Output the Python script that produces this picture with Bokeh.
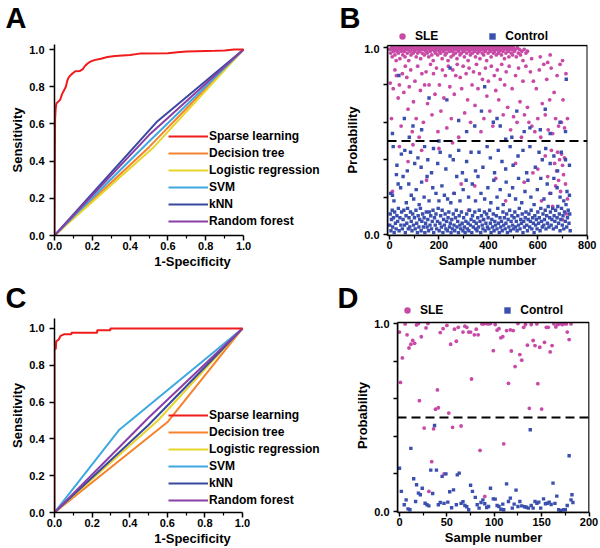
from bokeh.plotting import figure
from bokeh.layouts import row, column
from bokeh.models import (Range1d, FixedTicker, Legend, LegendItem, Span, BoxAnnotation, Label,
                          PrintfTickFormatter)
from bokeh.embed import file_html
from bokeh.resources import INLINE

FONT = "Liberation Sans"

# ---------------- ROC data ----------------
roc_names = ["Sparse learning", "Decision tree", "Logistic regression", "SVM", "kNN", "Random forest"]
roc_colors = ["#f01c1c", "#f5822e", "#e6d62c", "#3fa8e0", "#3a48a0", "#8a3fa6"]

a_sparse_fpr = [0, 0.003, 0.006, 0.01, 0.02, 0.03, 0.04, 0.05, 0.06, 0.067, 0.075, 0.088, 0.1, 0.11, 0.135,
                0.15, 0.16, 0.175, 0.19, 0.21, 0.245, 0.28, 0.32, 0.4, 0.45, 0.6, 0.65, 0.7, 0.85, 0.9, 0.95, 1.0]
a_sparse_tpr = [0, 0.62, 0.68, 0.71, 0.72, 0.73, 0.76, 0.78, 0.80, 0.83, 0.85, 0.865, 0.875, 0.883, 0.885,
                0.895, 0.91, 0.925, 0.935, 0.943, 0.95, 0.96, 0.965, 0.97, 0.978, 0.98, 0.985, 0.99, 0.993, 0.995, 1.0, 1.0]
a_tree_fpr, a_tree_tpr = [0, 0.5, 1], [0, 0.475, 1]
a_logit_fpr, a_logit_tpr = [0, 0.52, 1], [0, 0.47, 1]
a_svm_fpr, a_svm_tpr = [0, 0.5, 1], [0, 0.505, 1]
a_knn_fpr, a_knn_tpr = [0, 0.54, 1], [0, 0.61, 1]
a_rf_fpr, a_rf_tpr = [0, 0.5, 1], [0, 0.54, 1]

c_sparse_fpr = [0, 0, 0.007, 0.009, 0.023, 0.032, 0.05, 0.09, 0.09, 0.227, 0.227, 0.297, 0.297, 1.0]
c_sparse_tpr = [0, 0.886, 0.89, 0.93, 0.94, 0.96, 0.968, 0.968, 0.977, 0.977, 0.99, 0.99, 1.0, 1.0]
c_tree_fpr, c_tree_tpr = [0, 0.6, 1], [0, 0.49, 1]
c_logit_fpr, c_logit_tpr = [0, 0.55, 1], [0, 0.5, 1]
c_svm_fpr, c_svm_tpr = [0, 0.345, 1], [0, 0.45, 1]
c_knn_fpr, c_knn_tpr = [0, 0.5, 1], [0, 0.475, 1]
c_rf_fpr, c_rf_tpr = [0, 0.5, 1], [0, 0.515, 1]

roc_ticks = [0.0, 0.2, 0.4, 0.6, 0.8, 1.0]
roc_minor = [0.1, 0.3, 0.5, 0.7, 0.9]

# ---------------- Scatter data (panel B) ----------------
b_sle_pts = [
    (2,0.99),(5,0.97),(8,1.0),(11,0.95),(13,0.99),(16,0.98),(19,1.0),(22,0.96),(24,0.99),(27,0.93),(30,0.98),(33,1.0),(36,0.97),(39,0.99),(42,0.94),(45,1.0),(48,0.98),
    (51,0.99),(54,0.96),(57,1.0),(60,0.98),(63,0.95),(66,0.99),(69,1.0),(72,0.97),(75,0.99),(78,0.93),(81,1.0),(84,0.98),(87,0.96),(90,1.0),(93,0.99),(96,0.97),(99,1.0),
    (102,0.98),(105,0.99),(108,0.95),(111,1.0),(114,0.97),(117,0.99),(120,0.98),(123,1.0),(126,0.94),(129,0.99),(132,0.97),(135,1.0),(138,0.99),(141,0.96),(144,1.0),(147,0.98),
    (150,0.99),(153,0.97),(156,1.0),(159,0.95),(162,0.99),(165,0.98),(168,1.0),(171,0.96),(174,0.99),(177,0.93),(180,1.0),(183,0.98),(186,0.97),(189,0.99),(192,1.0),(195,0.96),(198,0.99),
    (201,0.98),(204,1.0),(207,0.97),(210,0.99),(213,0.94),(216,1.0),(219,0.98),(222,0.99),(225,0.96),(228,1.0),(231,0.97),(234,0.99),(237,0.93),(240,1.0),(243,0.98),(246,0.99),(249,0.95),
    (252,1.0),(255,0.98),(258,0.96),(261,0.99),(264,1.0),(267,0.97),(270,0.99),(273,0.94),(276,1.0),(279,0.98),(282,0.99),(285,0.96),(288,1.0),(291,0.97),(294,0.99),(297,1.0),
    (300,0.98),(303,0.95),(306,0.99),(309,1.0),(312,0.97),(315,0.99),(318,0.93),(321,1.0),(324,0.98),(327,0.96),(330,0.99),(333,1.0),(336,0.97),(339,0.99),(342,1.0),(345,0.98),(348,0.95),
    (351,1.0),(354,0.99),(357,0.97),(360,1.0),(363,0.98),(366,0.94),(369,0.99),(372,1.0),(375,0.97),(378,0.99),(381,0.96),(384,1.0),(387,0.98),(390,0.99),(393,0.93),(396,1.0),(399,0.97),
    (402,0.99),(405,1.0),(408,0.98),(411,0.95),(414,0.99),(417,1.0),(420,0.97),(423,0.99),(426,0.98),(429,1.0),(432,0.96),(435,0.99),(438,1.0),(441,0.97),(444,0.98),(447,1.0),
    (450,0.99),(453,0.96),(456,1.0),(459,0.98),(462,0.99),(465,0.94),(468,1.0),(471,0.97),(474,0.99),(477,1.0),(480,0.98),(483,0.95),(486,0.99),(489,1.0),(492,0.97),(495,0.99),(498,0.96),
    (501,1.0),(505,0.98),(509,0.99),(513,0.95),(517,1.0),(521,0.97),(525,0.99),(530,0.96),(535,0.98),(540,0.93),(545,0.99),(552,0.97),(558,0.98),
    (575,0.94),(610,0.95),(640,0.92),(650,0.96),(700,0.93),
    (3,0.81),(8,0.62),(15,0.78),(22,0.88),(28,0.85),(35,0.73),(40,0.80),(47,0.58),(52,0.86),(58,0.76),(64,0.90),(70,0.84),(75,0.67),(80,0.79),(86,0.88),(92,0.55),(97,0.71),
    (103,0.82),(108,0.62),(114,0.90),(120,0.52),(125,0.77),(131,0.86),(137,0.60),(142,0.80),(148,0.87),(154,0.70),(160,0.80),(166,0.91),(172,0.64),(178,0.86),(184,0.75),(190,0.89),(196,0.55),
    (202,0.80),(208,0.66),(214,0.88),(220,0.73),(226,0.85),(232,0.57),(238,0.90),(244,0.79),(250,0.62),(256,0.88),(262,0.75),(268,0.85),(274,0.91),(280,0.52),(286,0.84),(292,0.78),(298,0.90),
    (304,0.65),(310,0.86),(316,0.72),(322,0.89),(328,0.60),(334,0.80),(340,0.87),(346,0.69),(352,0.91),(358,0.78),(364,0.86),(370,0.55),(376,0.83),(382,0.62),(388,0.89),(394,0.74),
    (400,0.82),(406,0.66),(412,0.90),(418,0.58),(424,0.85),(430,0.77),(436,0.88),(442,0.72),(448,0.83),(454,0.91),(460,0.64),(466,0.80),(472,0.87),(478,0.68),(484,0.90),(490,0.56),(496,0.78),
    (502,0.63),(510,0.85),(516,0.60),(522,0.89),(528,0.71),(534,0.52),(540,0.82),(546,0.64),(552,0.90),(558,0.68),(564,0.60),(570,0.87),(576,0.58),(582,0.82),(588,0.55),(594,0.78),
    (600,0.62),(606,0.88),(612,0.52),(618,0.70),(624,0.91),(630,0.64),(636,0.83),(642,0.56),(648,0.72),(654,0.89),(660,0.54),(666,0.76),(672,0.62),(678,0.85),(684,0.58),(690,0.91),
    (696,0.60),(702,0.72),(708,0.57),(714,0.86),(720,0.62),
    (12,0.23),(40,0.47),(75,0.39),(95,0.48),(130,0.45),(150,0.29),(200,0.46),(255,0.49),(260,0.22),(290,0.27),(320,0.13),(345,0.26),(380,0.08),(430,0.30),(470,0.18),(510,0.38),
    (545,0.28),(580,0.33),(600,0.35),(615,0.18),(630,0.42),(640,0.31),(648,0.22),(655,0.45),(660,0.15),(668,0.38),(672,0.26),(676,0.34),(680,0.44),(684,0.29),(688,0.40),(692,0.23),
    (696,0.43),(700,0.37),(704,0.32),(708,0.41),(712,0.27),(716,0.11),(720,0.19),(700,0.08),
]
b_ctl_pts = [
    (1,0.05),(3,0.11),(6,0.02),(8,0.08),(11,0.13),(13,0.04),(16,0.09),(19,0.01),(21,0.12),(24,0.06),(27,0.03),(30,0.10),(33,0.07),(36,0.14),(39,0.02),(42,0.09),(46,0.05),(49,0.12),
    (52,0.03),(55,0.08),(58,0.13),(61,0.05),(64,0.01),(67,0.10),(70,0.06),(73,0.14),(76,0.03),(79,0.09),(82,0.04),(85,0.12),(88,0.07),(91,0.02),(94,0.11),(97,0.05),
    (101,0.09),(104,0.03),(107,0.13),(110,0.06),(113,0.01),(116,0.10),(119,0.04),(122,0.08),(125,0.14),(128,0.02),(131,0.07),(134,0.11),(137,0.04),(140,0.09),(143,0.01),(146,0.06),(149,0.12),
    (152,0.04),(155,0.08),(158,0.02),(161,0.12),(164,0.05),(167,0.10),(170,0.03),(173,0.07),(176,0.13),(179,0.01),(182,0.09),(185,0.05),(188,0.11),(191,0.03),(194,0.07),(197,0.14),
    (201,0.02),(204,0.06),(207,0.10),(210,0.04),(213,0.13),(216,0.01),(219,0.08),(222,0.05),(225,0.11),(228,0.03),(231,0.07),(234,0.02),(237,0.09),(240,0.12),(243,0.04),(246,0.06),(249,0.01),
    (252,0.08),(255,0.03),(258,0.11),(261,0.05),(264,0.02),(267,0.09),(270,0.13),(273,0.04),(276,0.07),(279,0.01),(282,0.10),(285,0.05),(288,0.03),(291,0.12),(294,0.06),(297,0.02),
    (300,0.09),(303,0.04),(306,0.01),(309,0.07),(312,0.11),(315,0.03),(318,0.06),(321,0.02),(324,0.13),(327,0.05),(330,0.08),(333,0.01),(336,0.10),(339,0.04),(342,0.07),(345,0.12),(348,0.03),
    (351,0.06),(354,0.02),(357,0.09),(360,0.04),(363,0.13),(366,0.07),(369,0.01),(372,0.10),(375,0.05),(378,0.03),(381,0.08),(384,0.12),(387,0.02),(390,0.06),(393,0.11),(396,0.04),(399,0.09),
    (402,0.03),(405,0.13),(408,0.06),(411,0.01),(414,0.08),(417,0.04),(420,0.11),(423,0.02),(426,0.07),(429,0.05),(432,0.10),(435,0.03),(438,0.14),(441,0.06),(444,0.01),(447,0.09),
    (450,0.04),(453,0.07),(456,0.02),(459,0.12),(462,0.05),(465,0.09),(468,0.03),(471,0.06),(474,0.11),(477,0.01),(480,0.08),(483,0.04),(486,0.13),(489,0.02),(492,0.07),(495,0.10),(498,0.05),
    (501,0.03),(504,0.09),(507,0.12),(510,0.04),(513,0.07),(516,0.02),(519,0.10),(522,0.05),(525,0.14),(528,0.03),(531,0.08),(534,0.06),(537,0.11),(540,0.01),(543,0.07),(546,0.04),(549,0.09),
    (552,0.12),(555,0.05),(558,0.02),(561,0.08),(564,0.11),(567,0.04),(570,0.07),(573,0.13),(576,0.03),(579,0.09),(582,0.06),(585,0.01),(588,0.10),(591,0.05),(594,0.08),(597,0.03),
    (600,0.12),(603,0.06),(606,0.09),(609,0.02),(612,0.14),(615,0.07),(618,0.04),(621,0.11),(624,0.05),(627,0.08),(630,0.13),(633,0.03),(636,0.10),(639,0.06),(642,0.15),(645,0.04),(648,0.09),
    (651,0.12),(654,0.05),(657,0.08),(660,0.14),(663,0.03),(666,0.10),(669,0.07),(672,0.13),(675,0.04),(678,0.09),(681,0.15),(684,0.06),(687,0.11),(690,0.02),(693,0.08),(696,0.14),(699,0.05),
    (702,0.10),(705,0.03),(708,0.12),(711,0.07),(714,0.16),(717,0.04),(720,0.09),(723,0.13),(726,0.06),(729,0.11),(731,0.02),
    (5,0.22),(12,0.21),(18,0.18),(28,0.32),(35,0.27),(45,0.25),(55,0.31),(68,0.17),(78,0.27),(88,0.21),(98,0.19),(108,0.24),(120,0.16),(130,0.28),(140,0.20),(152,0.31),(160,0.18),
    (175,0.25),(188,0.22),(200,0.18),(212,0.26),(222,0.21),(235,0.19),(248,0.17),(262,0.22),(272,0.31),(285,0.18),(298,0.24),(310,0.29),(320,0.20),(335,0.27),(348,0.18),(358,0.31),
    (370,0.22),(385,0.19),(398,0.25),(410,0.17),(422,0.29),(435,0.20),(448,0.24),(460,0.16),(472,0.28),(485,0.21),(498,0.25),(510,0.19),(522,0.30),(535,0.17),(548,0.23),(560,0.29),
    (572,0.20),(585,0.16),(598,0.24),(612,0.30),(625,0.19),(638,0.27),(652,0.22),(665,0.30),(678,0.25),(690,0.20),(705,0.18),(718,0.23),(728,0.21),
    (15,0.47),(30,0.37),(48,0.43),(62,0.45),(72,0.34),(85,0.44),(102,0.38),(115,0.41),(128,0.36),(142,0.47),(155,0.40),(170,0.33),(178,0.46),(195,0.38),(205,0.44),(228,0.35),
    (245,0.42),(258,0.40),(280,0.45),(295,0.33),(312,0.39),(330,0.44),(348,0.34),(362,0.44),(378,0.36),(395,0.47),(408,0.41),(425,0.33),(440,0.45),(455,0.39),(470,0.35),(488,0.47),
    (500,0.37),(520,0.42),(540,0.45),(555,0.33),(568,0.47),(590,0.36),(605,0.44),(618,0.40),(632,0.46),(650,0.38),(665,0.42),(680,0.34),(695,0.44),(712,0.40),(728,0.37),
    (12,0.54),(38,0.85),(60,0.62),(80,0.52),(95,0.58),(130,0.56),(160,0.73),(200,0.50),(232,0.72),(245,0.89),(280,0.61),(312,0.55),(345,0.58),(372,0.66),(385,0.79),(420,0.60),
    (435,0.62),(448,0.58),(470,0.51),(495,0.52),(515,0.66),(545,0.55),(568,0.57),(610,0.56),(630,0.67),(650,0.54),(690,0.60),(712,0.55),(715,0.83),
]
b_sle_x = [p[0] for p in b_sle_pts]
b_sle_y = [p[1] for p in b_sle_pts]
b_ctl_x = [p[0] for p in b_ctl_pts]
b_ctl_y = [p[1] for p in b_ctl_pts]

# ---------------- Scatter data (panel D) ----------------
d_sle_x = [0,1,3,6,8,10,12,14,16,18,20,21,23,26,28,30,31,34,36,38,40,41,43,46,47,50,52,54,56,58,
           60,62,65,67,69,71,73,75,76,79,81,83,85,87,89,90,92,94,96,99,101,103,105,107,109,110,113,115,117,118,
           120,122,125,127,129,131,133,135,137,139,141,143,145,146,148,150,153,155,157,159,161,163,165,167,169,172,174,176,177,179,181]
d_sle_y = [0.955,0.687,0.817,0.998,0.94,0.87,0.89,0.91,0.895,0.993,1.0,0.59,0.93,0.444,0.977,1.0,0.107,0.265,0.44,0.544,
           0.647,0.552,0.952,0.973,0.2,0.99,0.524,0.89,0.448,0.97,0.906,0.98,0.455,0.955,0.986,0.98,0.955,0.955,0.705,0.94,
           0.97,0.94,0.325,0.998,0.998,0.08,1.0,0.998,1.0,0.856,0.995,0.965,0.973,0.924,0.93,0.36,0.963,0.682,0.966,0.854,
           0.963,0.771,1.0,0.835,0.805,0.98,0.995,0.885,0.549,0.995,0.91,0.883,0.998,0.68,0.874,0.545,0.9,0.98,0.98,0.849,
           0.883,0.998,0.982,0.995,0.998,0.995,1.0,0.998,0.955,0.915,0.998]
d_ctl_x = [0,2,5,7,9,11,12,15,17,18,20,22,24,27,29,31,33,35,37,39,41,43,45,47,49,51,53,55,57,60,
           61,63,65,67,69,71,73,75,77,80,82,84,86,88,90,92,94,96,99,101,103,105,107,109,110,113,115,117,119,121,
           123,125,127,129,132,134,136,138,139,141,143,145,147,149,152,154,156,158,160,162,164,166,168,170,173,175,177,179,181,182,183]
d_ctl_y = [0.23,0.107,0.036,0.062,0.014,0.009,0.336,0.174,0.053,0.142,0.098,0.089,0.124,0.044,0.036,0.03,0.22,0.096,0.458,0.22,
           0.036,0.048,0.187,0.043,0.2,0.05,0.105,0.02,0.115,0.036,0.195,0.204,0.043,0.052,0.032,0.025,0.009,0.14,0.107,0.075,
           0.036,0.018,0.048,0.062,0.041,0.021,0.027,0.124,0.067,0.066,0.032,0.027,0.012,0.039,0.009,0.147,0.053,0.071,0.018,0.039,
           0.114,0.027,0.053,0.03,0.025,0.023,0.018,0.435,0.032,0.018,0.053,0.044,0.05,0.018,0.067,0.041,0.044,0.05,0.037,0.151,
           0.043,0.082,0.009,0.004,0.009,0.009,0.032,0.297,0.062,0.089,0.048]

threshold = 0.5
group_names = ["SLE", "Control"]
sle_color = "#c84aa6"
ctl_color = "#3a4fae"
NAN = float("nan")


def style_axis(ax, label, tick_out=5, label_standoff=1):
    ax.axis_label = label
    ax.axis_line_width = 1.5
    ax.axis_line_color = "black"
    ax.major_tick_line_width = 1.5
    ax.major_tick_line_color = "black"
    ax.minor_tick_line_width = 1.2
    ax.minor_tick_line_color = "black"
    ax.major_tick_out = tick_out
    ax.major_tick_in = 0
    ax.minor_tick_out = 3
    ax.minor_tick_in = 0
    ax.major_label_text_font = FONT
    ax.major_label_text_font_style = "bold"
    ax.major_label_text_font_size = "11px"
    ax.major_label_text_color = "black"
    ax.major_label_standoff = label_standoff
    ax.axis_label_text_font = FONT
    ax.axis_label_text_font_style = "bold"
    ax.axis_label_text_font_size = "13px"
    ax.axis_label_text_color = "black"
    ax.axis_label_standoff = 1


def roc_panel(curves, x_max, y_top, height, b_bottom, leg_y):
    p = figure(width=330, height=height, x_range=Range1d(0, x_max), y_range=Range1d(0, y_top),
               output_backend="svg", toolbar_location=None,
               min_border_left=54, min_border_right=0, min_border_top=0, min_border_bottom=b_bottom)
    p.outline_line_color = None
    p.grid.visible = False
    style_axis(p.xaxis[0], "1-Specificity")
    style_axis(p.yaxis[0], "Sensitivity", label_standoff=5)
    p.xaxis[0].bounds = (0, 1)
    p.xaxis[0].ticker = FixedTicker(ticks=roc_ticks, minor_ticks=roc_minor)
    p.yaxis[0].ticker = FixedTicker(ticks=roc_ticks, minor_ticks=[])
    p.xaxis[0].formatter = PrintfTickFormatter(format="%.1f")
    p.yaxis[0].formatter = PrintfTickFormatter(format="%.1f")
    rends = []
    for (fx, ty), col in zip(curves, roc_colors):
        rends.append(p.line(fx, ty, line_color=col, line_width=2))
    p.renderers.remove(rends[0])
    p.renderers.append(rends[0])
    items = [LegendItem(label=n, renderers=[r]) for n, r in zip(roc_names, rends)]
    leg = Legend(items=items, location=(114, leg_y), orientation="vertical", padding=0, margin=0,
                 spacing=3, glyph_width=40, glyph_height=14, label_height=14, label_standoff=1,
                 label_text_font=FONT, label_text_font_style="bold", label_text_font_size="12px",
                 label_text_color="black", background_fill_alpha=0, border_line_alpha=0)
    p.add_layout(leg)
    return p


def scatter_panel(sx, sy, cx, cy, xr, box_x, y_top, box_top, xticks, xminor, height,
                  b_left, b_right, b_bottom):
    p = figure(width=270, height=height, x_range=Range1d(*xr), y_range=Range1d(-0.0053, y_top),
               output_backend="svg", toolbar_location=None,
               min_border_left=b_left, min_border_right=b_right, min_border_top=0, min_border_bottom=b_bottom)
    p.outline_line_color = None
    p.grid.visible = False
    style_axis(p.xaxis[0], "Sample number", tick_out=4)
    style_axis(p.yaxis[0], "Probability", tick_out=4, label_standoff=4)
    p.yaxis[0].bounds = (-0.0053, box_top)
    p.xaxis[0].ticker = FixedTicker(ticks=xticks, minor_ticks=xminor)
    p.yaxis[0].ticker = FixedTicker(ticks=[0.0, 0.2, 0.4, 0.6, 0.8, 1.0], minor_ticks=[])
    p.yaxis[0].major_label_overrides = {0.2: "", 0.4: "", 0.6: "", 0.8: ""}
    p.yaxis[0].formatter = PrintfTickFormatter(format="%.1f")
    p.add_layout(BoxAnnotation(left=box_x[0], right=box_x[1], bottom=-0.0053, top=box_top,
                               fill_alpha=0, line_color="black", line_width=1.5, line_alpha=1))
    p.scatter(sx, sy, marker="circle", size=3.8, fill_color=sle_color, line_color=None)
    p.scatter(cx, cy, marker="square", size=3.4, fill_color=ctl_color, line_color=None)
    p.add_layout(Span(location=threshold, dimension="width", line_color="black", line_width=2,
                      line_dash="9 5"))
    return p


def header(height, letters, leg_loc, leg_spacing, baseline):
    h = figure(width=600, height=height, x_range=Range1d(0, 600), y_range=Range1d(0, height),
               output_backend="svg", toolbar_location=None, x_axis_location=None, y_axis_location=None,
               min_border=0, min_border_left=0, min_border_right=0, min_border_top=0, min_border_bottom=0)
    h.outline_line_color = None
    h.grid.visible = False
    for txt, lx in letters:
        h.add_layout(Label(x=lx, y=baseline, text=txt, text_font=FONT, text_font_style="bold",
                           text_font_size="29px", text_color="black", text_baseline="alphabetic"))
    # legend-only renderers (NaN -> nothing drawn in the plot area)
    r1 = h.scatter([NAN], [NAN], marker="circle", size=4, fill_color=sle_color, line_color=None)
    r2 = h.scatter([NAN], [NAN], marker="square", size=4, fill_color=ctl_color, line_color=None)
    leg = Legend(items=[LegendItem(label=group_names[0], renderers=[r1]),
                        LegendItem(label=group_names[1], renderers=[r2])],
                 location=leg_loc, orientation="horizontal", padding=0, margin=0, spacing=leg_spacing,
                 glyph_width=16, glyph_height=20, label_height=16, label_standoff=5,
                 label_text_font=FONT, label_text_font_style="bold", label_text_font_size="12px",
                 label_text_color="black", background_fill_alpha=0, border_line_alpha=0)
    h.add_layout(leg)
    return h


a_curves = [(a_sparse_fpr, a_sparse_tpr), (a_tree_fpr, a_tree_tpr), (a_logit_fpr, a_logit_tpr),
            (a_svm_fpr, a_svm_tpr), (a_knn_fpr, a_knn_tpr), (a_rf_fpr, a_rf_tpr)]
c_curves = [(c_sparse_fpr, c_sparse_tpr), (c_tree_fpr, c_tree_tpr), (c_logit_fpr, c_logit_tpr),
            (c_svm_fpr, c_svm_tpr), (c_knn_fpr, c_knn_tpr), (c_rf_fpr, c_rf_tpr)]

h1 = header(44, [("A", 5), ("B", 339)], (394, -2), 46, 27)
pA = roc_panel(a_curves, 1.460, 1.027, 234, 43, 7)
pB = scatter_panel(b_sle_x, b_sle_y, b_ctl_x, b_ctl_y, (-8.08, 801), (-8.08, 800), 1.016, 1.0106,
                   [0, 200, 400, 600, 800], [100, 300, 500, 700], 234, 57, 13, 41)
h2 = header(40, [("C", 5), ("D", 337)], (399, -2), 56, 21)
pC = roc_panel(c_curves, 1.468, 1.054, 230, 35, 5)
pD = scatter_panel(d_sle_x, d_sle_y, d_ctl_x, d_ctl_y, (-2.1, 200.5), (-2.1, 200), 1.027, 1.0053,
                   [0, 50, 100, 150, 200], [25, 75, 125, 175], 230, 67, 11, 36)

layout = column(h1, row(pA, pB), h2, row(pC, pD))

with open("out.html", "w") as f:
    f.write(file_html(layout, INLINE))
